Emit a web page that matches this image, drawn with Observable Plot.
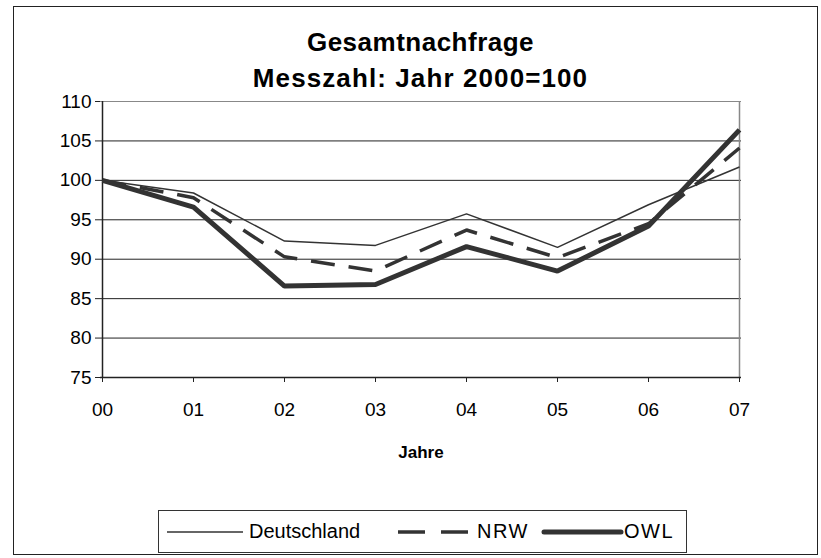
<!DOCTYPE html>
<html>
<head>
<meta charset="utf-8">
<script src="https://cdn.jsdelivr.net/npm/d3@7"></script>
<script src="https://cdn.jsdelivr.net/npm/@observablehq/plot@0.6"></script>
<style>
  html, body { margin: 0; padding: 0; background: #fff; }
  #wrap { position: relative; width: 821px; height: 558px; font-family: "Liberation Sans", Arial, sans-serif; color: #000; }
  #frame { position: absolute; left: 13px; top: 6px; width: 805px; height: 549px; border: 1px solid #222; box-sizing: border-box; }
  #title { position: absolute; left: 100px; width: 641px; top: 24px; text-align: center; font-weight: bold; font-size: 26px; line-height: 36px; }
  #title .l1 { letter-spacing: 0.5px; }
  #title .l2 { letter-spacing: 1.1px; }
  #plot { position: absolute; left: 0; top: 0; }
  #legend { position: absolute; left: 158px; top: 510px; width: 529px; height: 43px; border: 1px solid #333; box-sizing: border-box; font-size: 20px; }
  #legend .item { position: absolute; top: 0; height: 41px; line-height: 41px; }
  #legend svg { position: absolute; top: 0; }
</style>
</head>
<body>
<div id="wrap">
  <div id="frame"></div>
  <div id="plot"></div>
  <div id="title"><span class="l1">Gesamtnachfrage</span><br><span class="l2">Messzahl: Jahr 2000=100</span></div>
  <div id="legend"></div>
</div>
<script>
const years = ["00", "01", "02", "03", "04", "05", "06", "07"];
const deutschland = [100, 98.4, 92.3, 91.75, 95.75, 91.5, 96.9, 101.7];
const nrw = [100, 97.8, 90.3, 88.5, 93.7, 90.2, 94.5, 104.1];
const owl = [100, 96.6, 86.6, 86.8, 91.6, 88.5, 94.2, 106.4];
const seriesNames = ["Deutschland", "NRW", "OWL"];
const yTicks = [75, 80, 85, 90, 95, 100, 105, 110];
const gridValues = [80, 85, 90, 95, 100, 105];

const styles = {
  Deutschland: {strokeWidth: 1.5, dash: null},
  NRW: {strokeWidth: 3.5, dash: "24,14"},
  OWL: {strokeWidth: 5, dash: null}
};
const seriesValues = {Deutschland: deutschland, NRW: nrw, OWL: owl};

const rows = [];
for (const s of seriesNames) {
  years.forEach((yr, i) => rows.push({series: s, year: yr, value: seriesValues[s][i]}));
}

const lineMarks = seriesNames.map(s => Plot.line(rows.filter(r => r.series === s), {
  x: "year", y: "value", stroke: "#333",
  strokeWidth: styles[s].strokeWidth,
  strokeDasharray: styles[s].dash,
  strokeLinejoin: "miter", strokeLinecap: "butt"
}));

const chart = Plot.plot({
  width: 821,
  height: 558,
  marginLeft: 100,
  marginRight: 80,
  marginTop: 101,
  marginBottom: 181,
  style: {fontFamily: "'Liberation Sans', Arial, sans-serif", fontSize: "19px", color: "#000", background: "transparent"},
  x: {type: "point", domain: years, padding: 0, label: null},
  y: {domain: [75, 110], label: null},
  marks: [
    Plot.ruleY(gridValues, {stroke: "#222", strokeWidth: 1}),
    Plot.ruleY([110], {stroke: "#888", strokeWidth: 1}),
    Plot.ruleX([years[years.length - 1]], {stroke: "#888", strokeWidth: 1.5}),
    Plot.ruleX([years[0]], {stroke: "#222", strokeWidth: 1.5}),
    Plot.ruleY([75], {stroke: "#222", strokeWidth: 1.5}),
    Plot.axisY({ticks: yTicks, tickSize: 5, tickPadding: 4, fontSize: 19, stroke: "#222", label: null}),
    Plot.axisX({ticks: years, tickSize: 5, tickPadding: 20, fontSize: 19, stroke: "#222", label: null}),
    ...lineMarks,
    Plot.text(["Jahre"], {frameAnchor: "bottom", dy: 80, fontWeight: "bold", fontSize: 17, fill: "#000"})
  ]
});
document.getElementById("plot").appendChild(chart);

// legend
const legend = document.getElementById("legend");
const legendLayout = [
  {name: "Deutschland", x1: 8, x2: 84, text: 90},
  {name: "NRW", x1: 239, x2: 309, text: 318},
  {name: "OWL", x1: 385, x2: 462, text: 465}
];
legendLayout.forEach(l => {
  const st = styles[l.name];
  const svgNS = "http://www.w3.org/2000/svg";
  const svg = document.createElementNS(svgNS, "svg");
  svg.setAttribute("width", 529); svg.setAttribute("height", 41);
  svg.style.left = "0px";
  const line = document.createElementNS(svgNS, "line");
  line.setAttribute("x1", l.x1); line.setAttribute("x2", l.x2);
  line.setAttribute("y1", 21); line.setAttribute("y2", 21);
  line.setAttribute("stroke", "#333");
  line.setAttribute("stroke-width", st.strokeWidth);
  if (l.name === "NRW") line.setAttribute("stroke-dasharray", "27,16");
  if (l.name === "OWL") line.setAttribute("stroke-linecap", "round");
  svg.appendChild(line);
  legend.appendChild(svg);
  const t = document.createElement("div");
  t.className = "item";
  t.style.left = l.text + "px";
  t.textContent = l.name;
  if (l.name !== "Deutschland") t.style.letterSpacing = "1.5px";
  legend.appendChild(t);
});
</script>
</body>
</html>
